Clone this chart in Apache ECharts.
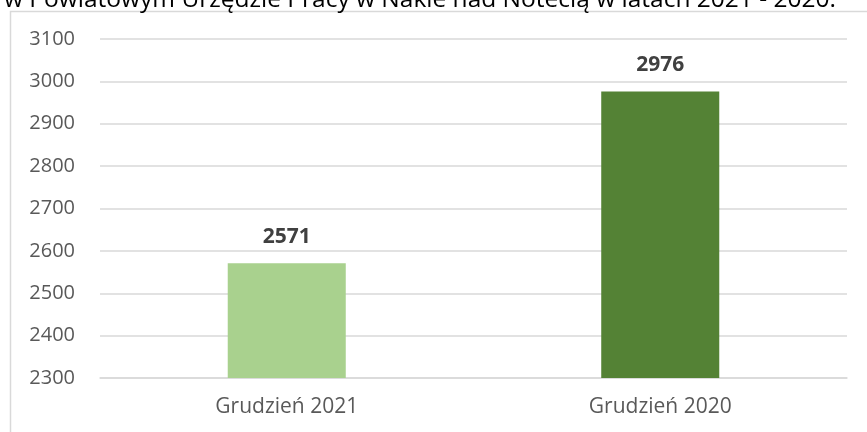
<!DOCTYPE html>
<html>
<head>
<meta charset="utf-8">
<script src="https://cdn.jsdelivr.net/npm/echarts@6/dist/echarts.min.js"></script>
<style>
  html, body { margin: 0; padding: 0; background: #fff; }
  #chart { width: 867px; height: 432px; }
</style>
</head>
<body>
<div id="chart"></div>
<script>
const categories = ['Grudzień 2021', 'Grudzień 2020']
const values = [2571, 2976]
const barColors = ['#A9D18E', '#548235']
const titleText = 'w Powiatowym Urzędzie Pracy w Nakle nad Notecią w latach 2021 - 2020.'

const font = 'Open Sans'
const myChart = echarts.init(document.getElementById('chart'))
myChart.setOption({
  animation: false,
  graphic: [
    {
      type: 'rect',
      shape: { x: 10.5, y: 11.5, width: 870, height: 440 },
      style: { fill: 'none', stroke: '#d9d9d9', lineWidth: 1.5 }
    },
    {
      type: 'text',
      left: 4,
      top: -12,
      style: { text: titleText, fontFamily: font, fontSize: 24.5, fill: '#000' }
    }
  ],
  grid: { left: 100, right: 20, top: 39, bottom: 54 },
  xAxis: {
    type: 'category',
    data: categories,
    axisLine: { lineStyle: { color: '#d9d9d9', width: 1.5 } },
    axisTick: { show: false },
    axisLabel: { color: '#595959', fontFamily: font, fontSize: 21, margin: 19 }
  },
  yAxis: {
    type: 'value',
    min: 2300,
    max: 3100,
    interval: 100,
    axisLine: { show: false },
    axisTick: { show: false },
    splitLine: { lineStyle: { color: '#d9d9d9', width: 1.5 } },
    axisLabel: {
      color: '#595959',
      fontFamily: font,
      fontSize: 20,
      margin: 25,
      formatter: v => String(v)
    }
  },
  series: [
    {
      type: 'bar',
      barWidth: '31.6%',
      data: values.map((v, i) => ({ value: v, itemStyle: { color: barColors[i] } })),
      label: {
        show: true,
        position: 'top',
        distance: 16,
        color: '#404040',
        fontFamily: font,
        fontSize: 21,
        fontWeight: 'bold'
      }
    }
  ]
})
window.onresize = myChart.resize
</script>
</body>
</html>
